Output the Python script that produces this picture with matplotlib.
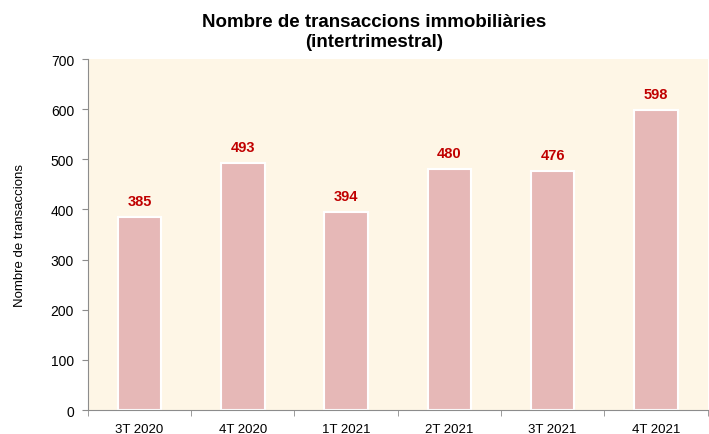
import matplotlib.pyplot as plt
import numpy as np

plt.rcParams["font.family"] = ["Liberation Sans", "DejaVu Sans"]

quarters = ["3T 2020", "4T 2020", "1T 2021", "2T 2021", "3T 2021", "4T 2021"]
transactions = [385, 493, 394, 480, 476, 598]

bar_color = "#E6B8B7"
bg_color = "#FEF6E6"
label_color = "#C00000"
axis_color = "#8C8C8C"

fig = plt.figure(figsize=(7.09, 4.35), dpi=100)
ax = fig.add_axes([0.124, 0.055, 0.874, 0.807])
ax.set_facecolor(bg_color)

x = np.arange(len(quarters))
ax.bar(x, transactions, width=0.42, color=bar_color, edgecolor="white", linewidth=1.5, zorder=2)
for xi, v in zip(x, transactions):
    ax.text(xi, v + 18, str(v), ha="center", va="bottom", color=label_color,
            fontsize=10.5, fontweight="bold")

ax.set_xlim(-0.5, len(quarters) - 0.5)
ax.set_ylim(0, 700)
ax.set_yticks(range(0, 701, 100))
ax.set_xticks(x)
ax.set_xticklabels(quarters, fontsize=9.5)
ax.set_xticks(np.arange(-0.5, len(quarters)), minor=True)
ax.tick_params(axis="x", which="major", length=0, pad=9)
ax.tick_params(axis="x", which="minor", length=4, color=axis_color, direction="out")
ax.tick_params(axis="y", length=4, color=axis_color, labelsize=10, pad=6)

for side in ["top", "right"]:
    ax.spines[side].set_visible(False)
for side in ["left", "bottom"]:
    ax.spines[side].set_color(axis_color)

ax.set_ylabel("Nombre de transaccions", fontsize=9.5, labelpad=18)
fig.text(0.527, 0.968, "Nombre de transaccions immobiliàries\n(intertrimestral)",
         ha="center", va="top", fontsize=13.5, fontweight="bold", linespacing=1.2)

fig.savefig("out.png", dpi=100)
